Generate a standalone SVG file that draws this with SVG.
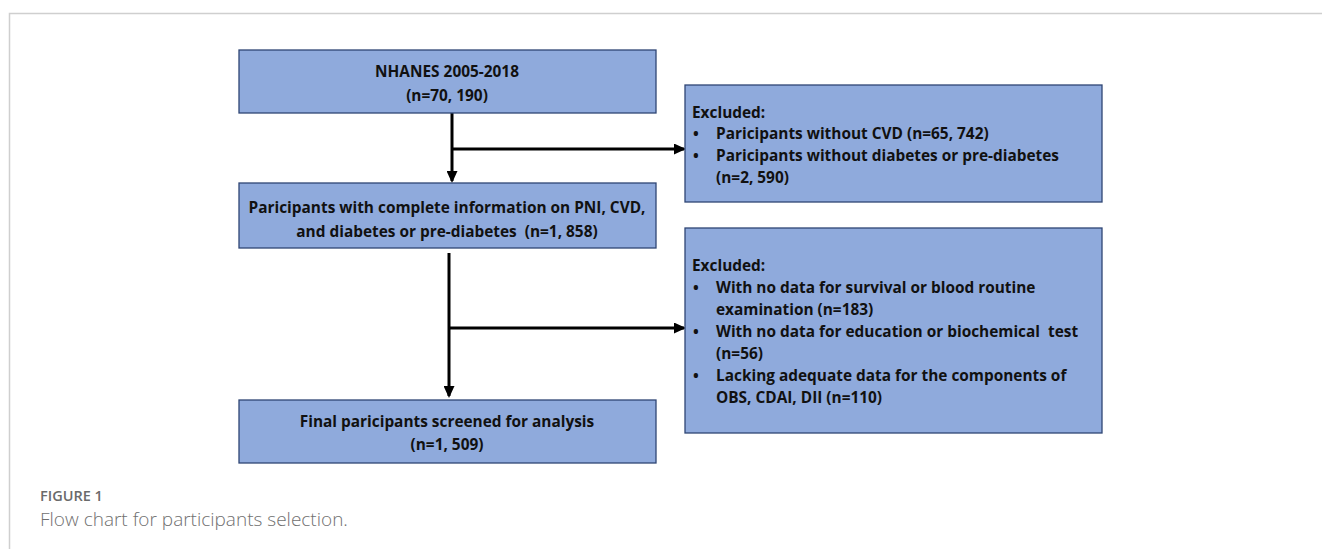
<svg xmlns="http://www.w3.org/2000/svg" width="1322" height="549" viewBox="0 0 1322 549">
<style>
.box{fill:#8faadc;stroke:#2f4574;stroke-width:1.3}
.t{font-family:"Open Sans","Liberation Sans",sans-serif;font-weight:bold;font-size:15.4px;fill:#111;white-space:pre}
.c{text-anchor:middle}
.ln{stroke:#000;stroke-width:3;fill:none}
.cap1{font-family:"Open Sans",Lato,sans-serif;font-weight:600;font-size:14.5px;fill:#6a6a6a}
.cap2{font-family:"Open Sans",Lato,sans-serif;font-weight:300;font-size:19px;fill:#707070}
</style>
<defs>
<marker id="ah" markerWidth="12" markerHeight="11" refX="10" refY="5.5" orient="auto" markerUnits="userSpaceOnUse" viewBox="0 0 12 11">
<path d="M0,0 L12,5.5 L0,11 Z" fill="#000"/>
</marker>
</defs>
<rect x="0" y="0" width="1322" height="549" fill="#fff"/>
<path d="M9.5,549 V13.5 H1322" fill="none" stroke="#cfcfcf" stroke-width="1.5"/>
<g id="connectors">
<path class="ln" d="M452,113 V181" marker-end="url(#ah)"/>
<path class="ln" d="M452,149 H684" marker-end="url(#ah)"/>
<path class="ln" d="M449,253 V396" marker-end="url(#ah)"/>
<path class="ln" d="M449,328 H684" marker-end="url(#ah)"/>
</g>
<g id="n1">
<rect class="box" x="239" y="50" width="417" height="63"/>
<text class="t c" x="447" y="77">NHANES 2005-2018</text>
<text class="t c" x="447" y="101">(n=70, 190)</text>
</g>
<g id="n2">
<rect class="box" x="239" y="183" width="417" height="65"/>
<text class="t c" x="447" y="213">Paricipants with complete information on PNI, CVD,</text>
<text class="t c" x="447" y="237">and diabetes or pre-diabetes  (n=1, 858)</text>
</g>
<g id="n3">
<rect class="box" x="239" y="400" width="417" height="63"/>
<text class="t c" x="447" y="427">Final paricipants screened for analysis</text>
<text class="t c" x="447" y="450">(n=1, 509)</text>
</g>
<g id="e1">
<rect class="box" x="685" y="85" width="417" height="117"/>
<text class="t" x="692" y="118">Excluded:</text>
<text class="t" x="693" y="139">•</text>
<text class="t" x="716" y="139">Paricipants without CVD (n=65, 742)</text>
<text class="t" x="693" y="161">•</text>
<text class="t" x="716" y="161">Paricipants without diabetes or pre-diabetes</text>
<text class="t" x="716" y="183">(n=2, 590)</text>
</g>
<g id="e2">
<rect class="box" x="685" y="228" width="417" height="205"/>
<text class="t" x="692" y="271">Excluded:</text>
<text class="t" x="693" y="293">•</text>
<text class="t" x="716" y="293">With no data for survival or blood routine</text>
<text class="t" x="716" y="315">examination (n=183)</text>
<text class="t" x="693" y="337">•</text>
<text class="t" x="716" y="337">With no data for education or biochemical  test</text>
<text class="t" x="716" y="359">(n=56)</text>
<text class="t" x="693" y="381">•</text>
<text class="t" x="716" y="381">Lacking adequate data for the components of</text>
<text class="t" x="716" y="403">OBS, CDAI, DII (n=110)</text>
</g>
<text class="cap1" x="40" y="501">FIGURE 1</text>
<text class="cap2" x="40" y="526">Flow chart for participants selection.</text>
</svg>
